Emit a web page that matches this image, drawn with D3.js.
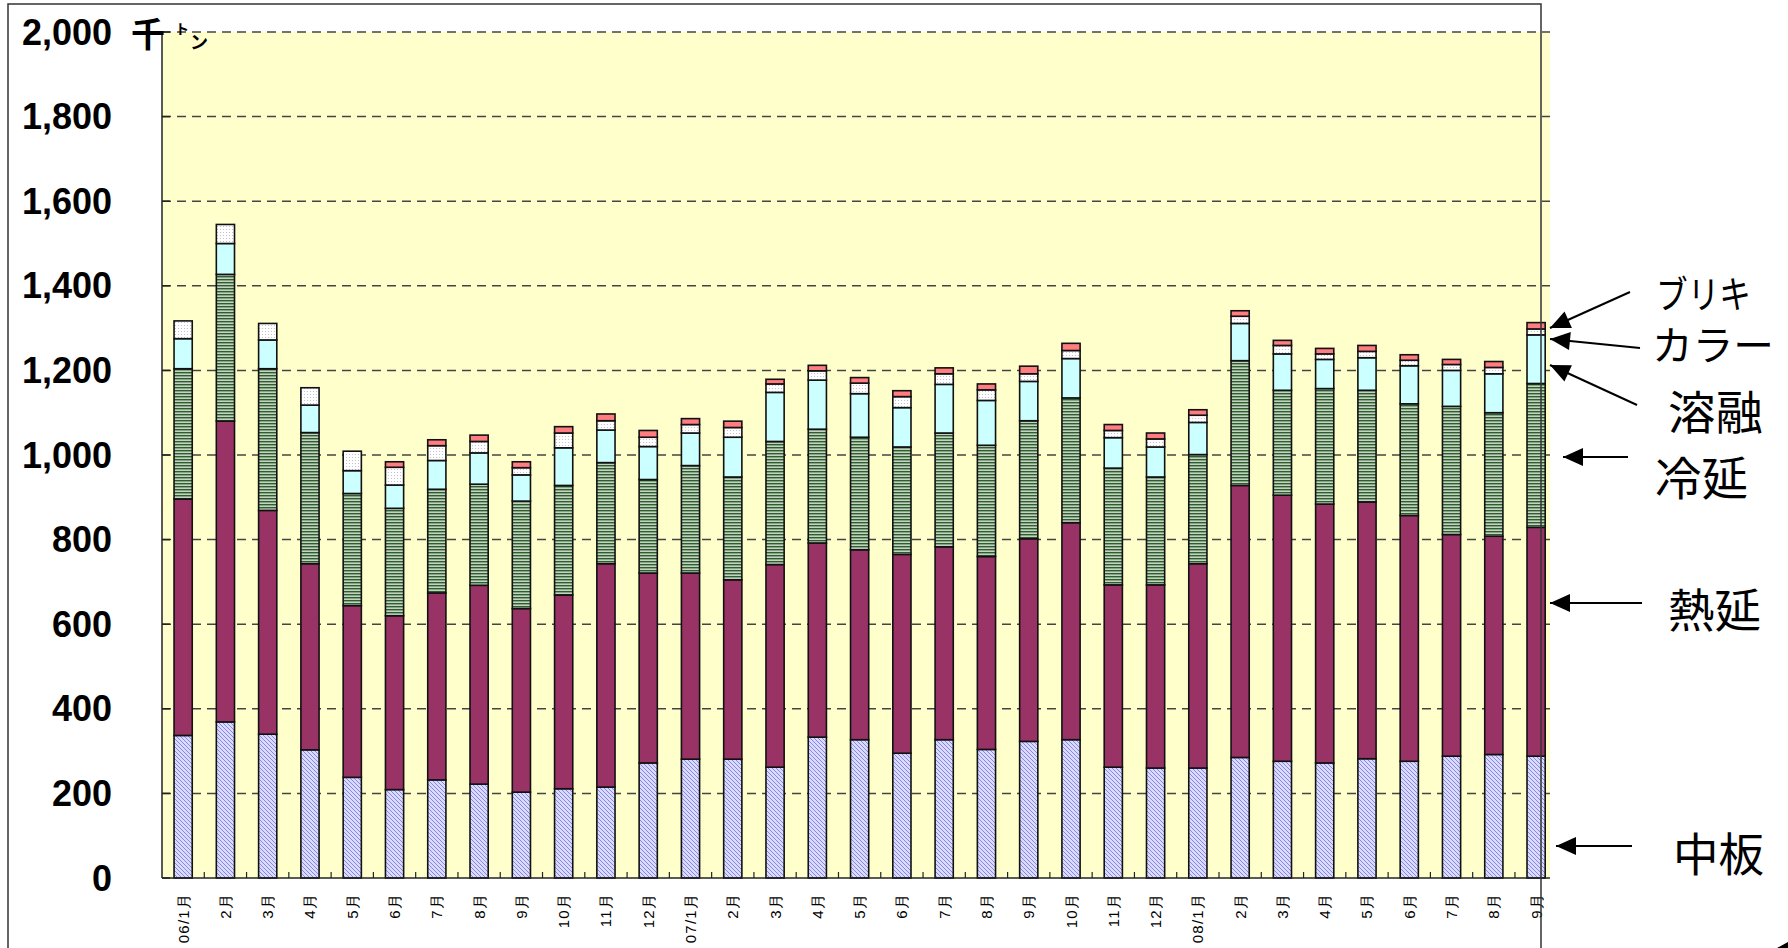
<!DOCTYPE html>
<html>
<head>
<meta charset="utf-8">
<script src="https://cdn.jsdelivr.net/npm/d3@7"></script>
<style>
  body { margin: 0; background: #fff; }
  svg { display: block; }
</style>
</head>
<body>
<div id="chart"></div>
<script>
// month labels (x axis)
const months = ["06/1月","2月","3月","4月","5月","6月","7月","8月","9月","10月","11月","12月",
  "07/1月","2月","3月","4月","5月","6月","7月","8月","9月","10月","11月","12月",
  "08/1月","2月","3月","4月","5月","6月","7月","8月","9月"];

// series, bottom to top (千トン)
const chuban  = [337,369,340,303,238,209,232,222,203,211,215,272,281,281,262,333,327,295,327,304,323,327,262,260,260,285,276,272,282,276,288,292,288];
const netsuen = [559,711,529,440,406,411,442,470,434,458,528,449,440,424,479,459,449,470,456,456,479,513,431,433,483,643,629,612,607,581,524,516,541];
const reien   = [308,347,335,310,265,254,245,239,254,259,239,221,254,243,291,269,266,254,269,263,279,295,276,255,258,295,248,273,264,264,303,292,340];
const yoyu    = [71,73,68,65,54,55,68,74,62,89,77,78,77,94,116,116,103,93,115,106,93,93,72,71,76,88,86,69,77,90,85,92,115];
const color   = [42,45,39,41,46,42,35,27,17,35,22,22,20,23,20,22,25,26,25,25,18,19,17,19,17,17,20,13,15,13,14,15,14];
const buriki  = [0,0,0,0,0,13,14,15,14,15,16,16,14,15,11,13,13,14,14,14,18,17,14,14,13,13,12,13,14,13,12,14,15];

const yTicks = [0,200,400,600,800,1000,1200,1400,1600,1800,2000];

const keys = ["chuban","netsuen","reien","yoyu","color","buriki"];
const fills = {
  chuban: "url(#hatch)", netsuen: "#993366", reien: "url(#stripe)",
  yoyu: "#CCFFFF", color: "url(#dots)", buriki: "#FF7C80"
};

const table = months.map((m, i) => ({
  i: i, chuban: chuban[i], netsuen: netsuen[i], reien: reien[i],
  yoyu: yoyu[i], color: color[i], buriki: buriki[i]
}));

const W = 1788, H = 948;
const plot = {left: 162, right: 1550, top: 32, bottom: 878};

const svg = d3.select("#chart").append("svg")
  .attr("width", W).attr("height", H);

// patterns
const defs = svg.append("defs");
const hatch = defs.append("pattern").attr("id", "hatch")
  .attr("patternUnits", "userSpaceOnUse").attr("width", 4).attr("height", 4);
hatch.append("rect").attr("width", 4).attr("height", 4).attr("fill", "#DADAFF");
hatch.append("path").attr("d", "M-1,3 l2,2 M0,0 l4,4 M3,-1 l2,2")
  .attr("stroke", "#7F7FDD").attr("stroke-width", 0.9);

const stripe = defs.append("pattern").attr("id", "stripe")
  .attr("patternUnits", "userSpaceOnUse").attr("width", 4).attr("height", 3);
stripe.append("rect").attr("width", 4).attr("height", 3).attr("fill", "#C4D3C1");
stripe.append("rect").attr("width", 4).attr("height", 1.4).attr("fill", "#2E5E2E");

const dots = defs.append("pattern").attr("id", "dots")
  .attr("patternUnits", "userSpaceOnUse").attr("width", 3).attr("height", 3);
dots.append("rect").attr("width", 3).attr("height", 3).attr("fill", "#FFFFFF");
dots.append("circle").attr("cx", 1.5).attr("cy", 1.5).attr("r", 0.6).attr("fill", "#B8B8C8");

const x = d3.scaleBand()
  .domain(d3.range(months.length))
  .range([plot.left, plot.left + 42.28 * months.length])
  .paddingInner(0.57).paddingOuter(0.285);

const y = d3.scaleLinear().domain([0, 2000]).range([plot.bottom, plot.top]);

// plot background
svg.append("rect")
  .attr("x", plot.left).attr("y", plot.top)
  .attr("width", plot.right - plot.left).attr("height", plot.bottom - plot.top)
  .attr("fill", "#FFFFCC");

// grid
svg.append("g").selectAll("line").data(yTicks.filter(d => d > 0)).join("line")
  .attr("x1", plot.left).attr("x2", plot.right)
  .attr("y1", d => y(d)).attr("y2", d => y(d))
  .attr("stroke", "#444").attr("stroke-width", 1.5).attr("stroke-dasharray", "9,6");

// y ticks (inside)
svg.append("g").selectAll("line").data(yTicks).join("line")
  .attr("x1", plot.left).attr("x2", plot.left + 8)
  .attr("y1", d => y(d)).attr("y2", d => y(d))
  .attr("stroke", "#222").attr("stroke-width", 1.5);

// stacked bars
const series = d3.stack().keys(keys)(table);
svg.append("g").selectAll("g").data(series).join("g")
  .attr("fill", d => fills[d.key])
  .selectAll("rect").data(d => d.filter(p => p[1] - p[0] > 0)).join("rect")
    .attr("x", d => x(d.data.i))
    .attr("width", x.bandwidth())
    .attr("y", d => y(d[1]))
    .attr("height", d => y(d[0]) - y(d[1]))
    .attr("stroke", "#111").attr("stroke-width", 1.6);

// axes lines
svg.append("line").attr("x1", plot.left).attr("x2", plot.left)
  .attr("y1", plot.top).attr("y2", plot.bottom).attr("stroke", "#222").attr("stroke-width", 1.5);
svg.append("line").attr("x1", plot.left).attr("x2", plot.right)
  .attr("y1", plot.bottom).attr("y2", plot.bottom).attr("stroke", "#222").attr("stroke-width", 1.5);

// x ticks between bands
svg.append("g").selectAll("line").data(d3.range(1, months.length)).join("line")
  .attr("x1", d => plot.left + d * x.step()).attr("x2", d => plot.left + d * x.step())
  .attr("y1", plot.bottom).attr("y2", plot.bottom - 6)
  .attr("stroke", "#222").attr("stroke-width", 1.2);

// y labels
svg.append("g").selectAll("text").data(yTicks).join("text")
  .attr("x", 112).attr("y", d => y(d))
  .attr("text-anchor", "end").attr("dominant-baseline", "central")
  .attr("font-family", "Liberation Sans, Arial, sans-serif")
  .attr("font-weight", "bold").attr("font-size", 36)
  .text(d => d3.format(",")(d));

// unit
svg.append("text").attr("x", 131).attr("y", 47)
  .attr("font-family", "Noto Sans CJK JP").attr("font-weight", "bold").attr("font-size", 34)
  .text("千");
svg.append("text").attr("x", 175).attr("y", 34)
  .attr("font-family", "Noto Sans CJK JP").attr("font-weight", "bold").attr("font-size", 14)
  .text("ト");
svg.append("text").attr("x", 190).attr("y", 49)
  .attr("font-family", "Noto Sans CJK JP").attr("font-weight", "bold").attr("font-size", 18)
  .text("ン");

// x labels
svg.append("g").selectAll("text").data(months).join("text")
  .attr("transform", (d, i) => `translate(${x(i) + x.bandwidth() / 2},893) rotate(-90)`)
  .attr("text-anchor", "end").attr("dominant-baseline", "central")
  .attr("font-family", "Liberation Sans, Arial, sans-serif").attr("font-size", 15)
  .attr("letter-spacing", 1.2)
  .text(d => d);

// annotations on the right
const notes = [
  {t: "ブリキ", x: 1656, y: 291, w: 95, fs: 38, from: [1630, 292], to: [1550, 328]},
  {t: "カラー", x: 1652, y: 343, w: 122, fs: 40, from: [1640, 348], to: [1550, 339]},
  {t: "溶融", x: 1668, y: 409, w: 95, fs: 46, from: [1637, 405], to: [1550, 365]},
  {t: "冷延", x: 1655, y: 475, w: 93, fs: 46, from: [1628, 457], to: [1563, 457]},
  {t: "熱延", x: 1668, y: 607, w: 93, fs: 46, from: [1642, 603], to: [1550, 603]},
  {t: "中板", x: 1673, y: 851, w: 91, fs: 46, from: [1632, 846], to: [1556, 846]}
];

const ann = svg.append("g");
ann.selectAll("text").data(notes).join("text")
  .attr("x", d => d.x).attr("y", d => d.y)
  .attr("dominant-baseline", "central")
  .attr("font-family", "Noto Sans CJK JP").attr("font-size", d => d.fs)
  .attr("textLength", d => d.w).attr("lengthAdjust", "spacingAndGlyphs")
  .text(d => d.t);

function arrowHead(d) {
  const dx = d.to[0] - d.from[0], dy = d.to[1] - d.from[1];
  const len = Math.hypot(dx, dy), ux = dx / len, uy = dy / len;
  const bx = d.to[0] - ux * 20, by = d.to[1] - uy * 20;
  return `M${d.to[0]},${d.to[1]} L${bx - uy * 9},${by + ux * 9} L${bx + uy * 9},${by - ux * 9} Z`;
}
ann.selectAll("line").data(notes).join("line")
  .attr("x1", d => d.from[0]).attr("y1", d => d.from[1])
  .attr("x2", d => d.to[0]).attr("y2", d => d.to[1])
  .attr("stroke", "#000").attr("stroke-width", 2);
ann.selectAll("path").data(notes).join("path")
  .attr("d", arrowHead).attr("fill", "#000");

// cut-off arrow head at the bottom corner
svg.append("path").attr("d", "M1777,948 L1788,942 L1788,948 Z").attr("fill", "#000");

// outer frame, drawn on top
svg.append("path")
  .attr("d", "M8,960 L8,4 L1541,4 L1541,960")
  .attr("fill", "none").attr("stroke", "#333").attr("stroke-width", 1.5);
</script>
</body>
</html>
